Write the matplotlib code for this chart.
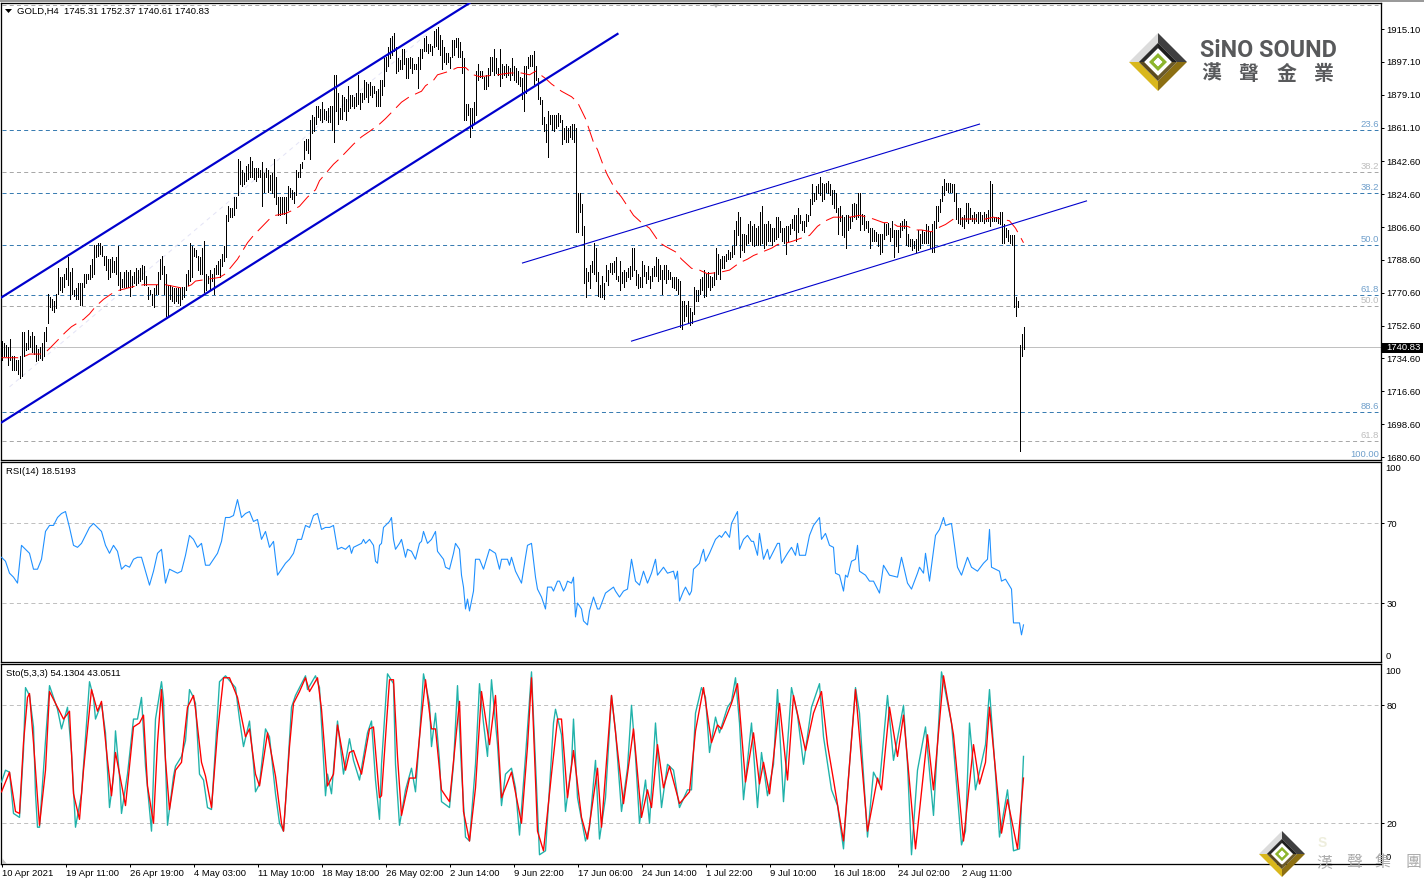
import matplotlib
matplotlib.use("Agg")
import matplotlib.pyplot as plt
from matplotlib.patches import Polygon, Rectangle

plt.rcParams['font.family'] = ['Liberation Sans', 'DejaVu Sans']
plt.rcParams['lines.scale_dashes'] = False

# one line = one date label on the axis (32 bars of H4)
high = [
1744,1743,1742,1741,1745,1736,1736,1734,1734,1736,1749,1749,1743,1750,1747,1749,1747,1742,1740,1741,1743,1749,1752,1770,1768,1767,1766,1770,1784,1779,1779,1781,
1784,1790,1782,1784,1772,1773,1776,1776,1776,1781,1781,1781,1786,1789,1797,1797,1798,1798,1796,1791,1791,1789,1789,1790,1788,1790,1796,1782,1778,1782,1783,1782,
1783,1780,1782,1784,1783,1784,1786,1785,1780,1774,1772,1770,1773,1775,1782,1789,1791,1785,1781,1775,1775,1774,1773,1773,1773,1773,1774,1774,1781,1783,1798,1796,
1795,1794,1791,1790,1795,1799,1781,1780,1783,1781,1784,1786,1788,1789,1792,1796,1813,1818,1817,1817,1823,1823,1844,1843,1838,1836,1840,1841,1845,1843,1839,1839,
1839,1838,1842,1836,1839,1838,1835,1836,1844,1834,1823,1823,1823,1823,1823,1829,1828,1827,1826,1838,1837,1841,1842,1854,1855,1855,1865,1868,1867,1873,1873,1871,
1875,1871,1870,1872,1873,1873,1890,1890,1880,1872,1879,1878,1877,1884,1879,1879,1878,1880,1890,1880,1880,1887,1886,1885,1886,1884,1884,1881,1882,1887,1887,1899,
1900,1905,1910,1911,1913,1905,1899,1898,1904,1904,1899,1899,1900,1899,1896,1896,1900,1904,1904,1910,1911,1907,1907,1906,1914,1915,1916,1912,1909,1905,1902,1902,
1900,1909,1909,1910,1910,1908,1903,1899,1874,1874,1872,1872,1875,1892,1896,1892,1892,1889,1890,1894,1900,1900,1904,1899,1894,1904,1896,1895,1896,1895,1894,1899,
1895,1894,1892,1889,1888,1895,1895,1900,1901,1901,1903,1895,1888,1878,1876,1867,1863,1870,1868,1868,1868,1868,1869,1868,1865,1861,1862,1861,1862,1863,1863,1861,
1825,1825,1819,1807,1784,1782,1786,1788,1798,1795,1782,1775,1780,1776,1786,1783,1787,1787,1788,1790,1780,1788,1782,1783,1782,1784,1785,1795,1795,1783,1781,1779,
1788,1786,1782,1785,1780,1784,1785,1790,1789,1786,1783,1786,1786,1783,1782,1779,1779,1779,1778,1777,1766,1766,1764,1766,1762,1760,1774,1772,1772,1778,1779,1783,
1781,1782,1780,1779,1782,1795,1792,1789,1791,1791,1792,1794,1793,1796,1805,1810,1815,1812,1803,1803,1802,1808,1810,1807,1808,1806,1807,1815,1818,1808,1808,1810,
1808,1806,1806,1812,1812,1810,1806,1806,1807,1807,1808,1811,1813,1813,1817,1813,1810,1810,1814,1813,1822,1830,1825,1829,1830,1834,1831,1830,1831,1832,1830,1827,
1827,1825,1817,1818,1813,1812,1813,1813,1812,1819,1820,1819,1825,1825,1814,1813,1810,1810,1806,1806,1805,1804,1803,1803,1803,1809,1808,1809,1806,1810,1805,1805,
1805,1809,1810,1811,1810,1803,1800,1800,1799,1800,1805,1803,1805,1804,1808,1807,1804,1808,1810,1818,1818,1822,1829,1833,1831,1831,1831,1830,1830,1825,1817,1817,
1812,1813,1820,1820,1817,1813,1815,1814,1815,1815,1813,1815,1814,1816,1832,1830,1812,1812,1812,1815,1815,1808,1806,1805,1802,1802,1802,1768,1766,1742,1748,1752,
]
low = [
1734,1736,1736,1731,1734,1728,1728,1728,1726,1724,1725,1736,1739,1740,1741,1738,1737,1733,1734,1735,1734,1736,1744,1754,1763,1761,1760,1762,1770,1772,1771,1774,
1778,1775,1767,1770,1769,1767,1767,1764,1764,1774,1776,1778,1778,1779,1781,1790,1791,1792,1791,1786,1783,1778,1779,1782,1782,1781,1775,1772,1774,1774,1774,1774,
1769,1774,1776,1775,1776,1777,1778,1775,1775,1767,1770,1764,1763,1770,1770,1778,1781,1770,1758,1758,1767,1766,1765,1766,1765,1764,1767,1768,1772,1775,1777,1779,
1791,1790,1783,1781,1781,1771,1772,1776,1772,1777,1770,1781,1781,1779,1785,1788,1790,1810,1812,1812,1813,1817,1824,1830,1829,1830,1832,1833,1834,1834,1833,1832,
1834,1834,1818,1826,1834,1826,1827,1825,1823,1819,1813,1813,1814,1814,1809,1816,1823,1822,1820,1824,1834,1834,1839,1844,1849,1847,1844,1858,1859,1863,1867,1865,
1864,1866,1865,1864,1864,1860,1853,1870,1863,1866,1866,1870,1865,1870,1872,1873,1872,1873,1874,1871,1875,1877,1878,1875,1879,1878,1880,1873,1873,1873,1879,1884,
1892,1895,1899,1901,1903,1891,1892,1893,1893,1896,1888,1888,1894,1891,1893,1893,1883,1893,1899,1903,1903,1902,1903,1901,1905,1906,1904,1901,1893,1897,1896,1897,
1894,1900,1901,1905,1900,1900,1891,1865,1865,1868,1856,1861,1863,1868,1887,1889,1888,1882,1882,1884,1890,1892,1890,1891,1890,1884,1888,1890,1889,1890,1887,1890,
1887,1886,1885,1884,1877,1870,1880,1894,1895,1895,1885,1887,1877,1874,1863,1859,1853,1845,1863,1860,1859,1861,1862,1864,1852,1855,1853,1853,1856,1855,1853,1804,
1804,1815,1802,1776,1768,1777,1773,1782,1781,1777,1769,1768,1768,1767,1777,1775,1782,1781,1782,1778,1777,1772,1776,1774,1777,1779,1778,1780,1783,1775,1773,1774,
1774,1780,1776,1778,1773,1777,1780,1780,1777,1778,1770,1778,1776,1778,1778,1774,1773,1772,1770,1752,1751,1755,1758,1754,1753,1754,1759,1766,1766,1770,1772,1768,
1769,1774,1772,1774,1775,1778,1781,1778,1784,1784,1788,1789,1789,1790,1792,1797,1802,1790,1794,1793,1797,1798,1799,1797,1796,1797,1797,1797,1798,1795,1797,1799,
1799,1797,1799,1800,1801,1804,1799,1798,1792,1799,1803,1806,1805,1799,1804,1809,1805,1804,1807,1810,1813,1819,1821,1822,1825,1824,1821,1822,1826,1825,1824,1819,
1817,1815,1803,1810,1802,1801,1795,1805,1806,1810,1812,1811,1812,1805,1808,1805,1806,1804,1795,1799,1799,1799,1796,1792,1793,1800,1802,1803,1799,1801,1790,1796,
1793,1801,1805,1806,1797,1796,1796,1794,1795,1793,1794,1795,1798,1798,1798,1798,1795,1793,1793,1806,1810,1815,1821,1824,1827,1826,1826,1826,1821,1811,1809,1808,
1807,1806,1810,1809,1811,1810,1809,1810,1809,1810,1810,1809,1810,1810,1807,1810,1810,1810,1809,1808,1798,1798,1801,1799,1798,1797,1763,1758,1763,1684,1736,1740,
]

ma_bars = [0,9,12,14,21,24,32,35,41,44,47,51,55,59,66,71,82,91,95,97,103,109,112,115,118,123,126,134,137,142,146,149,153,157,159,166,169,176,180,184,189,192,200,204,210,212,216,218,224,228,232,236,239,248,254,260,264,267,272,275,280,285,288,292,296,298,301,303,307,310,316,320,324,329,332,337,340,345,349,353,360,364,369,373,376,385,388,393,396,401,404,408,412,416,420,424,429,433,436,441,445,448,453,457,460,465,468,472,476,480,492,496,500,504,507,509,511]
ma_vals = [1735,1735,1736,1737,1737,1740,1749,1752,1756,1759,1763,1767,1770,1772,1774,1775,1775,1773,1775,1777,1778,1779,1781,1785,1789,1798,1802,1811,1813,1814,1816,1818,1823,1827,1832,1841,1844,1852,1856,1859,1863,1866,1875,1878,1881,1884,1887,1890,1892,1894,1894,1890,1889,1890,1891,1891,1890,1892,1888,1885,1881,1878,1875,1866,1853,1849,1840,1835,1827,1823,1813,1809,1806,1798,1796,1793,1789,1784,1783,1781,1782,1783,1787,1789,1791,1795,1797,1798,1799,1801,1802,1807,1810,1812,1812,1812,1813,1812,1811,1809,1809,1807,1807,1805,1805,1804,1806,1808,1811,1811,1811,1812,1811,1810,1806,1802,1798]

rsi_bars = list(range(0, 174, 2)) + [174,175,176,178,180,181,182,184,186,187,188,189,190,191,194,195,196,197,199,200,202,203,205,207,209,210,211,213,215,217,218,221,222,224,226,227,229,230,231,232,233,234,236,237,239,241,244,247,249,250,253,254,255,257,260,262,263,265,267,268,270,272,273,275,276,278,279,281,282,283,285,286,287,288,290,291,293,294,296,298,299,302,306,307,309,311,313,315,317,319,321,323,325,327,328,331,333,336,337,338,339,341,342,344,345,346,349,350,351,352,354,357,359,360,362,364,365,368,369,371,373,375,376,378,379,381,383,384,388,389,390,393,395,397,398,399,402,404,406,409,410,412,414,416,417,419,421,422,423,425,427,428,429,432,434,436,437,439,441,444,448,450,453,455,458,459,461,462,464,467,469,471,472,475,478,480,483,485,488,491,493,494,495,499,500,502,505,506,509,510,511]
rsi_vals = [53,51,45,43,40,59,57,55,47,47,52,66,69,69,73,75,76,68,59,58,60,64,68,70,68,66,59,55,59,56,47,49,48,52,53,53,46,39,46,55,57,40,47,46,45,46,54,64,62,58,60,49,49,52,55,61,73,73,74,82,73,75,76,71,72,62,66,58,61,44,47,50,52,55,62,62,69,68,74,75,67,68,68,69,57,58,57,
59,55,58,59,60,62,60,62,59,51,50,59,60,68,71,73,62,57,60,62,53,57,56,52,60,61,66,60,62,66,56,52,48,47,55,60,57,44,38,27,32,26,36,52,52,47,57,55,47,52,52,49,53,46,40,53,59,60,43,37,33,27,38,38,36,41,41,36,38,41,40,43,23,30,27,21,19,26,33,27,27,35,38,36,33,36,37,52,41,39,46,40,45,52,44,48,45,46,42,46,31,36,38,34,36,47,50,54,57,51,55,62,64,63,66,63,70,76,57,62,64,61,61,54,65,52,57,52,60,60,50,55,58,54,60,54,54,64,69,73,62,65,59,58,45,44,36,44,43,51,52,59,46,44,41,41,39,35,49,44,43,53,40,37,45,48,45,55,41,64,67,73,69,70,48,44,53,48,46,50,52,67,48,46,41,42,37,20,20,14,19]

sto_bars = [0,2,4,6,9,11,12,14,16,17,18,19,22,24,26,28,30,33,35,37,40,44,46,47,50,52,54,56,57,59,60,63,66,68,70,72,75,77,80,81,83,86,87,90,92,94,96,97,99,101,103,105,107,109,112,117,119,121,124,126,127,129,132,134,137,139,141,142,145,147,152,153,157,159,162,163,165,168,171,174,176,179,183,185,187,189,190,193,196,197,199,202,205,207,209,211,214,215,217,219,220,224,226,228,230,232,234,237,239,241,243,245,248,250,252,255,257,259,262,265,267,269,272,274,276,277,280,282,285,286,288,292,294,297,299,302,305,307,310,313,315,317,319,322,324,327,330,333,336,339,343,345,347,350,352,354,357,359,363,365,367,369,371,375,378,380,383,386,388,391,395,398,401,405,409,411,415,418,421,423,427,429,433,436,439,443,446,451,453,455,458,462,466,470,475,480,482,484,487,492,494,497,499,503,506,509,511]
sto_main = [41,47,46,25,23,57,89,85,69,35,18,18,62,90,84,78,68,79,56,18,35,92,84,73,81,66,28,44,67,44,25,45,73,73,84,49,16,73,92,83,19,44,49,54,62,88,84,81,45,42,28,27,59,92,95,89,73,59,72,50,36,40,68,64,35,20,16,30,79,85,95,88,95,89,34,45,35,72,45,63,52,42,66,72,42,22,50,96,91,50,19,37,48,36,64,96,81,59,76,52,31,28,50,90,47,13,11,50,91,71,54,93,60,29,45,48,38,14,54,97,50,4,6,38,71,78,65,26,50,73,33,11,18,52,12,33,85,67,26,48,80,54,20,42,20,71,28,50,47,28,37,37,76,89,84,56,74,66,79,82,94,71,32,71,28,56,34,50,88,31,89,75,50,79,91,64,37,29,7,37,89,76,13,46,40,85,52,80,50,4,47,69,24,97,71,9,16,71,37,60,88,45,13,37,6,7,54]
sig_bars = [0,4,7,9,11,13,14,16,19,22,24,27,31,34,36,39,41,45,48,50,53,55,57,62,66,69,71,73,76,78,80,82,84,87,90,93,96,97,100,102,105,108,111,114,118,122,124,127,129,133,137,140,141,144,146,149,152,154,158,160,163,166,168,172,174,176,180,184,186,189,190,194,196,198,200,204,207,210,212,215,217,220,224,229,231,234,237,240,244,247,250,255,260,263,265,268,271,275,278,280,283,286,290,293,298,300,305,308,311,316,320,323,325,328,331,334,339,344,347,351,355,358,360,365,368,372,376,379,381,384,389,393,396,402,406,410,413,416,421,427,433,438,440,444,448,451,457,463,466,471,476,481,486,489,492,494,500,503,508,511]
sto_signal = [36,46,26,25,61,84,86,61,19,47,87,81,73,77,35,22,47,88,77,82,52,34,56,29,69,71,75,39,20,61,88,52,27,47,51,79,85,78,51,44,28,66,94,94,84,64,68,45,39,66,44,20,16,59,81,87,94,87,94,78,39,45,70,47,56,57,45,68,69,33,34,93,93,54,24,43,43,74,93,68,68,37,31,82,26,11,38,87,60,85,33,46,20,59,94,16,6,45,73,73,33,57,23,12,48,18,85,57,30,68,23,37,28,60,38,49,30,36,67,89,61,70,68,81,91,41,66,40,51,35,81,42,85,57,76,87,60,42,11,88,16,43,37,79,54,75,7,65,37,95,65,11,60,40,51,79,15,32,7,43]
rsi_ticks = [70, 30]
sto_ticks = [80, 20]
price_ticks = [1915.10,1897.10,1879.10,1861.10,1842.60,1824.60,1806.60,1788.60,1770.60,1752.60,1734.60,1716.60,1698.60,1680.60]
date_labels = ["10 Apr 2021","19 Apr 11:00","26 Apr 19:00","4 May 03:00","11 May 10:00","18 May 18:00","26 May 02:00","2 Jun 14:00","9 Jun 22:00","17 Jun 06:00","24 Jun 14:00","1 Jul 22:00","9 Jul 10:00","16 Jul 18:00","24 Jul 02:00","2 Aug 11:00"]

# fibo levels: price, label (first set blue, second set grey)
fibo_blue = [(1860.0,"23.6"),(1825.5,"38.2"),(1797.0,"50.0"),(1769.1,"61.8"),(1705.0,"88.6"),(1679.2,"100.00")]
fibo_grey = [(1928.3,""),(1837.0,"38.2"),(1763.6,"50.0"),(1689.1,"61.8")]
last_price = 1740.83

# trend lines, (bar, price) -> (bar, price)
thick_lines = [((-0.5,1767.7),(234,1929.3)), ((-0.5,1699.2),(308,1912.4))]
thin_lines = [((260.5,1786.9),(489,1863.0)), ((315,1744.1),(542.5,1820.9))]
faint_line = ((4,1719),(214,1913.5))

W, H = 1424, 882
PX = 0.72
FS = 6.8
BLUE_DASH = '#3a7db2'
GREY_DASH = '#a8a8a8'
LEVEL = '#c0c0c0'
DASH = (0, (2.9, 2.3))


def panel(top, bottom):
    ax = fig.add_axes([1/W, 1-bottom/H, 1380/W, (bottom-top)/H])
    ax.set_xlim(-0.25, 689.75)
    for s in ax.spines.values():
        s.set_linewidth(PX*1.3)
        s.set_color('black')
    ax.yaxis.tick_right()
    ax.tick_params(axis='y', length=3*PX, width=PX, pad=1.8, labelsize=FS)
    ax.set_xticks([])
    return ax


def side_label(ax, val, s, dy):
    ax.annotate(s, xy=(1, val), xycoords=ax.get_yaxis_transform(), xytext=(3.4, dy*PX),
                textcoords='offset points', fontsize=FS, va='center', annotation_clip=False)


def logo(ov, cx, cy, r):
    def ring(r1, r2, cols):
        # four trapezoid faces between two diamonds
        pts1 = [(cx, cy-r1), (cx+r1, cy), (cx, cy+r1), (cx-r1, cy)]
        pts2 = [(cx, cy-r2), (cx+r2, cy), (cx, cy+r2), (cx-r2, cy)]
        for k, c in enumerate(cols):
            j = (k+1) % 4
            ov.add_patch(Polygon([pts1[k], pts1[j], pts2[j], pts2[k]], color=c, lw=0))
    ring(r, r*0.66, ['#3f3f40', '#8c6f12', '#d9b71c', '#dcdcdc'])
    ring(r*0.66, r*0.47, ['#1e1e1e', '#6b5a2a', '#5a4a20', '#2a2a2a'])
    ring(r*0.47, r*0.31, ['#ffffff', '#ffffff', '#ffffff', '#ffffff'])
    ring(r*0.31, r*0.15, ['#8db52c', '#8db52c', '#8db52c', '#8db52c'])
    ring(r*0.15, 0, ['#ffffff', '#ffffff', '#ffffff', '#ffffff'])


fig = plt.figure(figsize=(W/100, H/100), dpi=100)
fig.patches.append(Rectangle((0, 1-1.5/H), 1, 1.5/H, transform=fig.transFigure, color='#9a9a9a', lw=0))

# price panel
ax = panel(3, 460)
ax.set_ylim(1678.96, 1929.35)
bars = list(range(len(high)))
for p, s in fibo_blue:
    ax.plot([0, 688], [p, p], color=BLUE_DASH, lw=PX, ls=DASH, zorder=1)
    if s:
        ax.annotate(s, xy=(688.6, p), xytext=(0, 5.5*PX), textcoords='offset points', ha='right', va='center',
                    fontsize=FS, color='#6f9fcb', annotation_clip=False)
for p, s in fibo_grey:
    ax.plot([0, 688], [p, p], color=GREY_DASH, lw=PX, ls=DASH, zorder=1)
    if s:
        ax.annotate(s, xy=(688.6, p), xytext=(0, 5.5*PX), textcoords='offset points', ha='right', va='center',
                    fontsize=FS, color='#bdbdbd', annotation_clip=False)
ax.plot([-0.25, 689.75], [last_price, last_price], color=LEVEL, lw=PX, zorder=1)
ax.plot(*zip(*faint_line), color='#e4e4f6', lw=PX, ls=(0, (3, 3)), zorder=1)
ax.vlines(bars, low, high, color='black', lw=PX, antialiased=False, zorder=3)
ax.plot(ma_bars, ma_vals, color='red', lw=PX, ls=(0, (12, 5)), zorder=4)
for a, b in thick_lines:
    ax.plot(*zip(a, b), color='#0000cd', lw=PX*2.2, zorder=5)
for a, b in thin_lines:
    ax.plot(*zip(a, b), color='#0000cd', lw=PX*1.1, zorder=5)
ax.set_yticks(price_ticks)
ax.set_yticklabels(['%.2f' % v for v in price_ticks])
ax.tick_params(axis='y', labeltop=False)
for t in ax.get_yticklabels():
    t.set_y(t.get_position()[1] + 0.5)

# RSI panel
ax2 = panel(462, 661.5)
ax2.set_ylim(0.6, 100.9)
for v in rsi_ticks:
    ax2.plot([0, 688], [v, v], color=LEVEL, lw=PX, ls=DASH, zorder=1)
ax2.plot(rsi_bars, rsi_vals, color='#1e90ff', lw=PX*1.1, zorder=3)
ax2.set_yticks(rsi_ticks)
ax2.set_yticklabels([str(v) for v in rsi_ticks])
side_label(ax2, 100, '100', -5)
side_label(ax2, 0.6, '0', 5)

# stochastic panel
ax3 = panel(664, 864)
ax3.set_ylim(-0.7, 101)
for v in sto_ticks:
    ax3.plot([0, 688], [v, v], color=LEVEL, lw=PX, ls=DASH, zorder=1)
ax3.plot(sto_bars, sto_main, color='#20b2aa', lw=PX*1.35, zorder=3)
ax3.plot(sig_bars, sto_signal, color='red', lw=PX*1.35, zorder=4)
ax3.set_yticks(sto_ticks)
ax3.set_yticklabels([str(v) for v in sto_ticks])
side_label(ax3, 100, '100', -6)
side_label(ax3, 0, '0', 5)
ax3.set_xticks(range(0, 512, 32))
ax3.set_xticklabels(date_labels, ha='left', fontsize=FS)
ax3.tick_params(axis='x', length=3*PX, width=PX, pad=1.5)

# overlay in pixels for the header texts, price box and logos
ov = fig.add_axes([0, 0, 1, 1], facecolor='none')
ov.set_xlim(0, W)
ov.set_ylim(H, 0)
ov.axis('off')
ov.add_patch(Polygon([(5, 9), (12, 9), (8.5, 13)], color='black', lw=0))
ov.add_patch(Polygon([(713, 4), (719, 4), (716, 8)], color='#b5b5b5', lw=0))
ov.add_patch(Polygon([(2, 858), (2, 864), (7, 864)], color='#c4c4c4', lw=0))
ov.text(17, 11, "GOLD,H4  1745.31 1752.37 1740.61 1740.83", fontsize=FS, va='center')
ov.text(6, 471, "RSI(14) 18.5193", fontsize=FS, va='center')
ov.text(6, 673.5, "Sto(5,3,3) 54.1304 43.0511", fontsize=FS, va='center')
ov.add_patch(Rectangle((1382, 342.5), 41, 10, color='black', lw=0))
ov.text(1386, 347.8, "%.2f" % last_price, color='white', fontsize=FS, va='center')

logo(ov, 1158, 62, 29)
ov.text(1200.5, 50.5, "SiNO SOUND", fontsize=16.8, fontweight='bold', color='#58595b', va='center', family='Roboto')
for x, ch in zip([1211, 1248.5, 1286.5, 1323.5], "漢聲金業"):
    ov.text(x, 73, ch, fontsize=14.3, fontweight='bold', color='#58595b', ha='center', va='center', family='Noto Sans CJK TC')

logo(ov, 1282, 854, 23)
ov.text(1322, 843, "S", fontsize=10, color='#eeeedd', ha='center', va='center', fontweight='bold')
for x, ch in zip([1324, 1354, 1383, 1413], "漢聲集團"):
    ov.text(x, 863, ch, fontsize=11.5, color='#ababab', ha='center', va='center', family='Noto Sans CJK TC')

fig.savefig("out.png", dpi=100)
